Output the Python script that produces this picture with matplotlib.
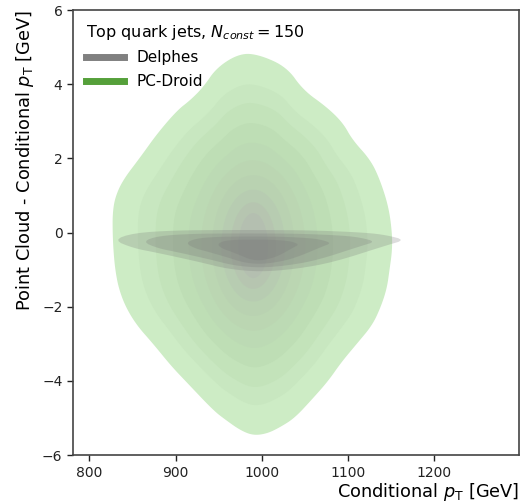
import numpy as np
import matplotlib
matplotlib.use("Agg")
import matplotlib.pyplot as plt
from matplotlib.lines import Line2D
from matplotlib.colors import LinearSegmentedColormap

# outer density contour of PC-Droid (conditional pT, residual)
pc_x = [975, 998, 1029, 1048, 1075, 1094, 1105, 1126, 1137, 1147, 1151,
        1151, 1148, 1145, 1138, 1128, 1110, 1092, 1077, 1058, 1038, 1021,
        1006, 990, 975, 958, 944, 913, 895, 874, 855, 842, 834, 830, 828,
        827, 827, 830, 839, 859, 879, 902, 917, 932, 948]
pc_y = [4.84, 4.79, 4.46, 3.84, 3.39, 2.96, 2.5, 1.96, 1.42, 0.69, -0.01,
        -0.5, -1.0, -1.5, -2.0, -2.5, -3.0, -3.5, -4.0, -4.5, -5.0, -5.25,
        -5.42, -5.47, -5.33, -5.05, -4.8, -4.04, -3.6, -3.0, -2.5, -2.0, -1.5,
        -1.0, -0.5, 0.0, 0.53, 0.96, 1.42, 2.03, 2.68, 3.3, 3.57, 3.92, 4.46]
pc_center = (990, -0.35)
pc_level_sx = [1.0, 0.83, 0.71, 0.59, 0.48, 0.39, 0.31, 0.24, 0.17, 0.11]
pc_level_sy = [1.0, 0.85, 0.76, 0.66, 0.56, 0.47, 0.39, 0.31, 0.24, 0.18]

# outer density contour of Delphes
de_x = [828, 851, 900, 960, 1000, 1060, 1120, 1145, 1166,
        1145, 1083, 1040, 998, 960, 929, 880, 851]
de_y = [-0.2, -0.01, 0.06, 0.07, 0.07, 0.06, 0.0, -0.07, -0.2,
        -0.34, -0.8, -0.98, -1.06, -0.98, -0.8, -0.55, -0.42]
de_center = (995, -0.45)
de_level_sx = [1.0, 0.80, 0.50, 0.28]
de_level_sy = [1.0, 0.82, 0.66, 0.50]


def chaikin(xs, ys, n_iter=3):
    pts = np.column_stack([xs, ys]).astype(float)
    for _ in range(n_iter):
        nxt = np.roll(pts, -1, axis=0)
        q = 0.75 * pts + 0.25 * nxt
        r = 0.25 * pts + 0.75 * nxt
        pts = np.empty((2 * len(q), 2))
        pts[0::2] = q
        pts[1::2] = r
    return pts[:, 0], pts[:, 1]


def level_shape(xs, ys, center, sx, sy, w):
    # scale contour toward centre, rounding it toward an ellipse by weight w
    cx, cy = center
    hx = (max(xs) - min(xs)) / 2
    hy = (max(ys) - min(ys)) / 2
    u = (xs - cx) / hx
    v = (ys - cy) / hy
    rad = np.hypot(u, v)
    th = np.arctan2(v, u)
    rad = (1 - w) * rad + w * rad.mean()
    return cx + sx * hx * rad * np.cos(th), cy + sy * hy * rad * np.sin(th)


fig = plt.figure(figsize=(5.21, 5.04), dpi=100)
ax = fig.add_axes([0.140, 0.097, 0.856, 0.883])

green_cmap = LinearSegmentedColormap.from_list(
    "pc", ["#cdecc5", "#bedeb5", "#b9d2b1", "#b4bfb0"])
px, py = chaikin(pc_x, pc_y)
n = len(pc_level_sx)
for i, (sx, sy) in enumerate(zip(pc_level_sx, pc_level_sy)):
    t = i / (n - 1)
    xs, ys = level_shape(px, py, pc_center, sx, sy, min(1.0, 1.6 * t))
    ax.fill(xs, ys, color=green_cmap(t), lw=0)

dx, dy = chaikin(de_x, de_y, 2)
for sx, sy in zip(de_level_sx, de_level_sy):
    xs = de_center[0] + sx * (dx - de_center[0])
    ys = de_center[1] + sy * (dy - de_center[1])
    ax.fill(xs, ys, color="#787878", alpha=0.25, lw=0)

ax.set_xlim(781, 1298)
ax.set_ylim(-6, 6)
ax.set_xticks([800, 900, 1000, 1100, 1200])
ax.set_yticks([-6, -4, -2, 0, 2, 4, 6])
ax.tick_params(labelsize=10, colors="#222222", length=4, width=1)
for s in ax.spines.values():
    s.set_color("#444444")
    s.set_linewidth(1.2)

ax.set_xlabel(r"Conditional $p_\mathrm{T}$ [GeV]", fontsize=12.8, loc="right",
              labelpad=1)
ax.set_ylabel(r"Point Cloud - Conditional $p_\mathrm{T}$ [GeV]", fontsize=12.8,
              loc="top")

handles = [Line2D([], [], color="#808080", lw=5),
           Line2D([], [], color="#55a03a", lw=5)]
leg = ax.legend(handles, ["Delphes", "PC-Droid"], loc="upper left",
                title=r"Top quark jets, $N_{const} = 150$", frameon=False,
                fontsize=11, title_fontsize=11.5, handlelength=2.5,
                borderaxespad=0.45, labelspacing=0.55)
leg._legend_box.align = "left"

fig.savefig("out.png", dpi=100)
